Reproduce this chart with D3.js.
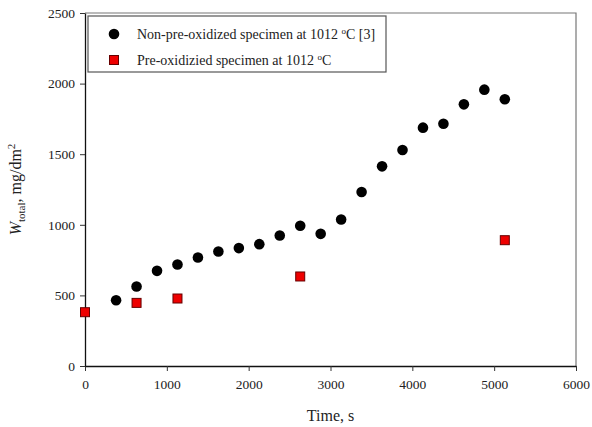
<!DOCTYPE html>
<html>
<head>
<meta charset="utf-8">
<script src="https://cdn.jsdelivr.net/npm/d3@7"></script>
<style>
	body { margin: 0; background: #fff; }
	text { font-family: "Liberation Serif", "Times New Roman", serif; fill: #222; }
</style>
</head>
<body>
<div id="chart"></div>
<script>
// non-pre-oxidized specimen [3]
let timeA = [380, 630, 880, 1130, 1380, 1630, 1880, 2130, 2380, 2630, 2880, 3130, 3380, 3630, 3880, 4130, 4380, 4630, 4880, 5130];
let wA = [466, 563, 674, 719, 768, 811, 835, 863, 924, 993, 936, 1038, 1232, 1414, 1530, 1688, 1716, 1853, 1957, 1889];

// pre-oxidized specimen
let timeB = [0, 630, 1130, 2630, 5130];
let wB = [381, 447, 478, 634, 891];

let xTicks = [0, 1000, 2000, 3000, 4000, 5000, 6000];
let yTicks = [0, 500, 1000, 1500, 2000, 2500];
let legendLabels = ["Non-pre-oxidized specimen at 1012 ", "Pre-oxidizied specimen at 1012 "];

function chart() {
	let window_w = 592,
		window_h = 427;
	let margin = {top: 13, right: 16, bottom: 61, left: 85},
		width = window_w - (margin.left + margin.right),
		height = window_h - (margin.top + margin.bottom);

	let svg = d3.select("#chart")
		.append("svg")
		.attr("width", window_w)
		.attr("height", window_h);

	let plot = svg.append("g")
		.attr("transform", "translate(" + margin.left + "," + margin.top + ")");

	let x = d3.scaleLinear()
		.domain([0, 6000])
		.range([0, width]);

	let y = d3.scaleLinear()
		.domain([0, 2500])
		.range([height, 0]);

	// grey frame top / right
	plot.append("path")
		.attr("d", "M0,0H" + width + "V" + height)
		.attr("fill", "none")
		.attr("stroke", "#777")
		.attr("stroke-width", 1.2);

	let xAxis = plot.append("g")
		.attr("transform", "translate(0," + height + ")")
		.call(d3.axisBottom(x).tickValues(xTicks).tickFormat(d3.format("d"))
			.tickSize(5).tickPadding(8).tickSizeOuter(0));

	let yAxis = plot.append("g")
		.call(d3.axisLeft(y).tickValues(yTicks).tickFormat(d3.format("d"))
			.tickSize(5).tickPadding(5).tickSizeOuter(0));

	[xAxis, yAxis].forEach(function(a) {
		a.select(".domain").attr("stroke", "#111").attr("stroke-width", 1.3);
		a.selectAll(".tick line").attr("stroke", "#333");
		a.selectAll(".tick text")
			.attr("fill", "#222")
			.style("font-family", "Liberation Serif")
			.style("font-size", "13.5px");
	});

	// axis titles
	svg.append("text")
		.attr("x", margin.left + width / 2)
		.attr("y", 421)
		.attr("text-anchor", "middle")
		.style("font-size", "16px")
		.text("Time, s");

	let ylab = svg.append("text")
		.attr("transform", "translate(21," + (margin.top + height / 2) + ") rotate(-90)")
		.attr("text-anchor", "middle")
		.style("font-size", "16px");
	ylab.append("tspan").style("font-style", "italic").text("W");
	ylab.append("tspan").attr("dy", 4).style("font-size", "11px").text("total");
	ylab.append("tspan").attr("dy", -4).text(", mg/dm");
	ylab.append("tspan").attr("dy", -6).style("font-size", "11px").text("2");

	// data
	plot.append("g")
		.selectAll("circle")
		.data(timeA)
		.enter()
		.append("circle")
		.attr("cx", function(d, i) { return x(d); })
		.attr("cy", function(d, i) { return y(wA[i]); })
		.attr("r", 5.3)
		.attr("fill", "#000");

	let sq = 9;
	plot.append("g")
		.selectAll("rect")
		.data(timeB)
		.enter()
		.append("rect")
		.attr("x", function(d, i) { return x(d) - sq / 2; })
		.attr("y", function(d, i) { return y(wB[i]) - sq / 2; })
		.attr("width", sq)
		.attr("height", sq)
		.attr("fill", "#ee0000")
		.attr("stroke", "#600")
		.attr("stroke-width", 1);

	// legend
	let legend = svg.append("g")
		.attr("transform", "translate(88,16)");
	legend.append("rect")
		.attr("width", 298)
		.attr("height", 56)
		.attr("fill", "#fff")
		.attr("stroke", "#555")
		.attr("stroke-width", 1.2);

	legend.append("circle")
		.attr("cx", 26)
		.attr("cy", 18)
		.attr("r", 5.3)
		.attr("fill", "#000");
	legend.append("rect")
		.attr("x", 26 - sq / 2)
		.attr("y", 44 - sq / 2)
		.attr("width", sq)
		.attr("height", sq)
		.attr("fill", "#ee0000")
		.attr("stroke", "#600");

	legendLabels.forEach(function(lab, i) {
		let t = legend.append("text")
			.attr("x", 49)
			.attr("y", 23 + i * 26)
			.style("font-size", "14px");
		t.append("tspan").text(lab);
		t.append("tspan").attr("dy", -5).style("font-size", "9px").text("o");
		t.append("tspan").attr("dy", 5).text(i == 0 ? "C [3]" : "C");
	});
}

chart();
</script>
</body>
</html>
